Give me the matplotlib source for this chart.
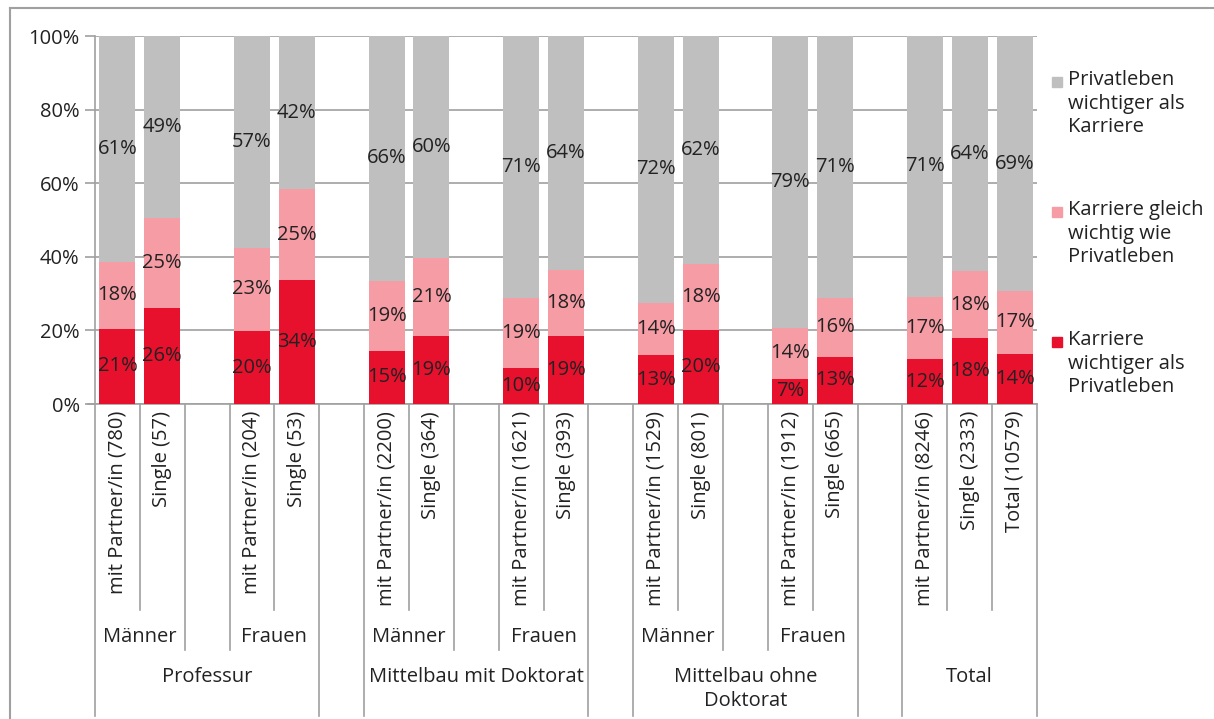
import matplotlib
matplotlib.use("Agg")
import matplotlib.pyplot as plt
from matplotlib.lines import Line2D
from matplotlib.patches import Rectangle

plt.rcParams['font.family'] = ['Open Sans', 'DejaVu Sans']

# data
top_groups = ["Professur", "Mittelbau mit Doktorat", "Mittelbau ohne\nDoktorat", "Total"]
sub_groups = ["Männer", "Frauen", "Männer", "Frauen", "Männer", "Frauen", ""]
sub_top = [0, 0, 1, 1, 2, 2, 3]
sub_size = [2, 2, 2, 2, 2, 2, 3]
bar_labels = ["mit Partner/in (780)", "Single (57)",
              "mit Partner/in (204)", "Single (53)",
              "mit Partner/in (2200)", "Single (364)",
              "mit Partner/in (1621)", "Single (393)",
              "mit Partner/in (1529)", "Single (801)",
              "mit Partner/in (1912)", "Single (665)",
              "mit Partner/in (8246)", "Single (2333)", "Total (10579)"]
karriere = [20.5, 26.1, 19.8, 33.7, 14.5, 18.6, 9.8, 18.6, 13.3, 20.1, 6.8, 12.8, 12.2, 17.9, 13.6]
gleich = [18.2, 24.5, 22.7, 24.6, 19.0, 21.1, 19.0, 17.8, 14.2, 17.9, 13.9, 16.0, 17.0, 18.2, 17.1]
privat = [61.3, 49.4, 57.5, 41.7, 66.5, 60.3, 71.2, 63.6, 72.5, 62.0, 79.3, 71.2, 70.8, 63.9, 69.3]
labels_karriere = [21, 26, 20, 34, 15, 19, 10, 19, 13, 20, 7, 13, 12, 18, 14]
labels_gleich = [18, 25, 23, 25, 19, 21, 19, 18, 14, 18, 14, 16, 17, 18, 17]
labels_privat = [61, 49, 57, 42, 66, 60, 71, 64, 72, 62, 79, 71, 71, 64, 69]
series_names = ["Privatleben\nwichtiger als\nKarriere",
                "Karriere gleich\nwichtig wie\nPrivatleben",
                "Karriere\nwichtiger als\nPrivatleben"]

c_red = "#E8112D"
c_pink = "#F69CA5"
c_gray = "#BFBFBF"
line_c = "#A0A0A0"

W, H = 1214, 719
fig = plt.figure(figsize=(W / 100, H / 100), dpi=100)
ax_l, ax_r, ax_t, ax_b = 95, 1037, 36, 404
ax = fig.add_axes([ax_l / W, 1 - ax_b / H, (ax_r - ax_l) / W, (ax_b - ax_t) / H])

# slot positions: one empty slot between subgroups
pos = []
sub_span = []
x = 0
for i, n in enumerate(sub_size):
    if i > 0:
        x += 1
    sub_span.append((x, x + n - 1))
    for k in range(n):
        pos.append(x)
        x += 1
nslots = x

bottom2 = [a + b for a, b in zip(karriere, gleich)]
ax.bar(pos, karriere, 0.8, color=c_red, zorder=3)
ax.bar(pos, gleich, 0.8, bottom=karriere, color=c_pink, zorder=3)
ax.bar(pos, privat, 0.8, bottom=bottom2, color=c_gray, zorder=3)

fs = 14.5
tc = "#222222"
for i, p in enumerate(pos):
    ax.text(p, karriere[i] / 2, f"{labels_karriere[i]}%", ha="center", va="center", fontsize=fs, color=tc, zorder=4)
    ax.text(p, karriere[i] + gleich[i] / 2, f"{labels_gleich[i]}%", ha="center", va="center", fontsize=fs, color=tc, zorder=4)
    ax.text(p, bottom2[i] + privat[i] / 2, f"{labels_privat[i]}%", ha="center", va="center", fontsize=fs, color=tc, zorder=4)

ax.set_xlim(-0.5, nslots - 0.5)
ax.set_ylim(0, 100)
ax.set_yticks(range(0, 101, 20))
ax.set_yticklabels([f"{v}%" for v in range(0, 101, 20)], fontsize=fs, color=tc)
ax.set_xticks([])
ax.grid(axis="y", color=line_c, linewidth=1.2, zorder=0)
for s in ["top", "right"]:
    ax.spines[s].set_visible(False)
ax.spines["left"].set_color(line_c)
ax.spines["bottom"].set_color(line_c)
ax.spines["left"].set_linewidth(1.2)
ax.spines["bottom"].set_linewidth(1.2)
ax.tick_params(axis="y", length=7, color=line_c, width=1.2, pad=4)
ax.spines["bottom"].set_bounds(-0.5 - 7 / 44.86, nslots - 0.5)

tr = ax.get_xaxis_transform()
def fy(ypix):
    return (ax_b - ypix) / (ax_b - ax_t)

def vline(xv, ypix):
    ax.add_line(Line2D([xv, xv], [0, fy(ypix)], transform=tr, color=line_c, lw=1.2, clip_on=False))

# separator lines of the multi-level axis
for j, (a, b) in enumerate(sub_span):
    top_first = j == 0 or sub_top[j - 1] != sub_top[j]
    top_last = j == len(sub_span) - 1 or sub_top[j + 1] != sub_top[j]
    vline(a - 0.5, 716 if top_first else 650)
    vline(b + 0.5, 716 if top_last else 650)
    for k in range(a, b):
        vline(k + 0.5, 610)
    ax.text((a + b) / 2, fy(637), sub_groups[j], transform=tr, ha="center", va="center", fontsize=fs, color=tc)

for i, p in enumerate(pos):
    ax.text(p, fy(411), bar_labels[i], transform=tr, rotation=90, ha="center", va="top", fontsize=fs, color=tc)

for g, name in enumerate(top_groups):
    spans = [sub_span[j] for j in range(len(sub_span)) if sub_top[j] == g]
    cx = (spans[0][0] + spans[-1][1]) / 2
    ax.text(cx, fy(667), name, transform=tr, ha="center", va="top", fontsize=fs, color=tc, linespacing=1.25)

# legend
leg_colors = [c_gray, c_pink, c_red]
leg_y = [82, 212, 342]
for c, yy, name in zip(leg_colors, leg_y, series_names):
    fig.patches.append(Rectangle((1052 / W, 1 - (yy + 5) / H), 10 / W, 10 / H, transform=fig.transFigure, color=c))
    fig.text(1068 / W, 1 - (yy - 12) / H, name, ha="left", va="top", fontsize=fs, color=tc, linespacing=1.25)

# outer chart frame
fig.add_artist(Line2D([10 / W, 1], [1 - 8 / H, 1 - 8 / H], transform=fig.transFigure, color=line_c, lw=1.5))
fig.add_artist(Line2D([10 / W, 10 / W], [0, 1 - 8 / H], transform=fig.transFigure, color=line_c, lw=1.5))

fig.savefig("out.png", dpi=100)
